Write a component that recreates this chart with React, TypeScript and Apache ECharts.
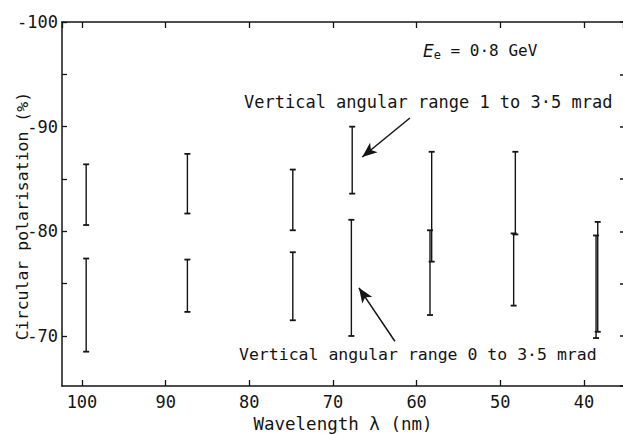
import React, { useEffect, useRef } from "react";
import * as echarts from "echarts";

// Wavelength (nm) positions and polarisation ranges (%) for each error bar
const upperLambda = [99.5, 87.4, 74.8, 67.7, 58.2, 48.2, 38.35];
const upperLow = [-86.4, -87.4, -85.9, -90.0, -87.6, -87.6, -80.9];
const upperHigh = [-80.6, -81.7, -80.1, -83.6, -77.1, -79.7, -70.4];

const lowerLambda = [99.5, 87.4, 74.8, 67.8, 58.4, 48.4, 38.55];
const lowerLow = [-77.4, -77.3, -78.0, -81.1, -80.1, -79.8, -79.6];
const lowerHigh = [-68.5, -72.3, -71.5, -70.0, -72.0, -72.9, -69.8];

const xTickLabels = ["100", "90", "80", "70", "60", "50", "40"];
const yTickLabels = ["-100", "-90", "-80", "-70"];

const FONT = "DejaVu Sans Mono";
const INK = "#141414";

export default function App() {
  const ref = useRef<HTMLDivElement>(null);

  useEffect(() => {
    if (!ref.current) return;
    const chart = echarts.init(ref.current, null, { renderer: "svg" });

    const upperData = upperLambda.map((x, i) => [x, upperLow[i], upperHigh[i]]);
    const lowerData = lowerLambda.map((x, i) => [x, lowerLow[i], lowerHigh[i]]);

    const renderBar = (params: any, api: any) => {
      const x = api.value(0);
      const lo = api.value(1);
      const hi = api.value(2);
      const p1 = api.coord([x, lo]);
      const p2 = api.coord([x, hi]);
      const w = 3;
      const style = { stroke: INK, lineWidth: 1.4 };
      return {
        type: "group",
        children: [
          { type: "line", shape: { x1: p1[0], y1: p1[1], x2: p2[0], y2: p2[1] }, style },
          { type: "line", shape: { x1: p1[0] - w, y1: p1[1], x2: p1[0] + w, y2: p1[1] }, style: { stroke: INK, lineWidth: 1.8 } },
          { type: "line", shape: { x1: p2[0] - w, y1: p2[1], x2: p2[0] + w, y2: p2[1] }, style: { stroke: INK, lineWidth: 1.8 } },
        ],
      };
    };

    const xLabelFmt = (v: number) => {
      const s = String(Math.round(v));
      return Math.abs(v - Math.round(v)) < 1e-6 && xTickLabels.includes(s) ? s : "";
    };
    const yLabelFmt = (v: number) => {
      const s = String(Math.round(v));
      return Math.abs(v - Math.round(v)) < 1e-6 && yTickLabels.includes(s) ? s : "";
    };

    const axisLine = { show: true, lineStyle: { color: INK, width: 1.5 } };

    chart.setOption({
      animation: false,
      backgroundColor: "#ffffff",
      grid: { left: 62, right: 0, top: 22, bottom: 48 },
      xAxis: [
        {
          type: "value",
          position: "bottom",
          inverse: true,
          min: 35.33,
          max: 102.39,
          splitNumber: 6,
          axisLine,
          axisTick: { show: true, inside: true, length: 6, lineStyle: { color: INK, width: 1.3 } },
          axisLabel: { formatter: xLabelFmt, fontFamily: FONT, fontSize: 17, color: INK, margin: 7, lineHeight: 17, showMinLabel: false, showMaxLabel: false },
          splitLine: { show: false },
        },
        {
          type: "value",
          position: "top",
          inverse: true,
          min: 35.33,
          max: 102.39,
          splitNumber: 6,
          axisLine,
          axisTick: { show: true, inside: true, length: 6, lineStyle: { color: INK, width: 1.3 } },
          axisLabel: { show: false },
          splitLine: { show: false },
        },
      ],
      yAxis: [
        {
          type: "value",
          position: "left",
          inverse: true,
          min: -100,
          max: -65.22,
          interval: 5,
          axisLine,
          axisTick: { show: true, inside: true, length: 5, lineStyle: { color: INK, width: 1.3 } },
          axisLabel: { formatter: yLabelFmt, fontFamily: FONT, fontSize: 17, color: INK, margin: 4, showMaxLabel: false },
          splitLine: { show: false },
        },
        {
          type: "value",
          position: "right",
          inverse: true,
          min: -100,
          max: -65.22,
          interval: 5,
          axisLine: { show: false },
          axisTick: { show: true, inside: true, length: 3, lineStyle: { color: INK, width: 1.5 } },
          axisLabel: { show: false },
          splitLine: { show: false },
        },
      ],
      series: [
        {
          type: "custom",
          name: "Vertical angular range 1 to 3·5 mrad",
          xAxisIndex: 0,
          yAxisIndex: 0,
          renderItem: renderBar,
          encode: { x: 0, y: [1, 2] },
          data: upperData,
          silent: true,
        },
        {
          type: "custom",
          name: "Vertical angular range 0 to 3·5 mrad",
          xAxisIndex: 0,
          yAxisIndex: 0,
          renderItem: renderBar,
          encode: { x: 0, y: [1, 2] },
          data: lowerData,
          silent: true,
        },
        {
          type: "line",
          xAxisIndex: 0,
          yAxisIndex: 0,
          data: [],
          silent: true,
          markLine: {
            silent: true,
            symbol: ["none", "arrow"],
            symbolSize: [9, 15],
            label: { show: false },
            lineStyle: { color: INK, width: 1.5, type: "solid" },
            data: [
              [{ coord: [60.8, -90.83] }, { coord: [66.5, -87.1] }],
              [{ coord: [62.6, -69.5] }, { coord: [66.9, -74.6] }],
            ],
          },
        },
      ],
      graphic: [
        {
          type: "text",
          left: 423,
          top: 42,
          style: {
            text: "{i|E}{s|e} = 0·8 GeV",
            fontFamily: FONT,
            fontSize: 16,
            fill: INK,
            rich: {
              i: { fontFamily: "DejaVu Sans", fontStyle: "italic", fontSize: 17, fill: INK },
              s: { fontFamily: FONT, fontSize: 12, fill: INK, padding: [8, 0, 0, 0] },
            },
          },
        },
        {
          type: "text",
          left: 244,
          top: 93,
          style: { text: "Vertical angular range 1 to 3·5 mrad", fontFamily: FONT, fontSize: 17, fill: INK },
        },
        {
          type: "text",
          left: 239,
          top: 346,
          style: { text: "Vertical angular range 0 to 3·5 mrad", fontFamily: FONT, fontSize: 16.5, fill: INK },
        },
        {
          type: "text",
          x: 22,
          y: 216,
          rotation: Math.PI / 2,
          style: {
            text: "Circular polarisation (%)",
            fontFamily: FONT,
            fontSize: 16.5,
            fill: INK,
            align: "center",
            verticalAlign: "middle",
          },
        },
        {
          type: "text",
          x: 343,
          y: 424,
          style: {
            text: "Wavelength λ (nm)",
            fontFamily: FONT,
            fontSize: 17.5,
            lineHeight: 17.5,
            fill: INK,
            align: "center",
            verticalAlign: "middle",
          },
        },
      ],
    });

    return () => chart.dispose();
  }, []);

  return (
    <div
      ref={ref}
      style={{ position: "fixed", left: 0, top: 0, width: 623, height: 434, background: "#fff" }}
    />
  );
}
